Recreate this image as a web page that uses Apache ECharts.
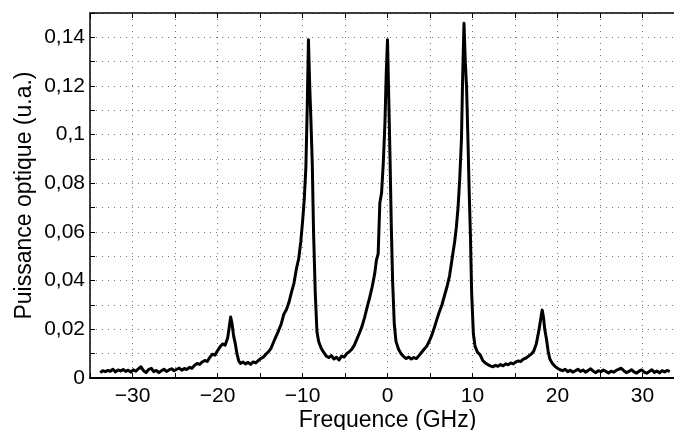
<!DOCTYPE html>
<html>
<head>
<meta charset="utf-8">
<script src="https://cdn.jsdelivr.net/npm/echarts@6/dist/echarts.min.js"></script>
<style>
html,body{margin:0;padding:0;background:#fff;}
#chart{width:674px;height:430px;}
</style>
</head>
<body>
<div id="chart"></div>
<script>
// Frequency (GHz) and optical power (a.u.)
const freq = [
-33.8,-33.5,-33.2,-32.9,-32.6,-32.3,-32.0,-31.7,-31.4,-31.1,-30.8,-30.5,-30.2,-29.9,-29.6,-29.3,-29.0,-28.7,-28.4,-28.1,
-27.8,-27.5,-27.2,-26.9,-26.6,-26.3,-26.0,-25.7,-25.4,-25.1,-24.8,-24.5,-24.2,-23.9,-23.6,-23.3,-23.0,-22.7,-22.4,-22.1,
-21.8,-21.5,-21.2,-20.9,-20.6,-20.3,-20.0,-19.7,-19.4,-19.1,-18.8,-18.6,-18.45,-18.3,-18.1,-17.9,-17.7,-17.5,-17.3,-17.0,
-16.7,-16.4,-16.1,-15.8,-15.5,-15.2,-14.9,-14.6,-14.3,-14.0,-13.7,-13.4,-13.1,-12.8,-12.5,-12.2,-11.9,-11.6,-11.3,-11.0,
-10.7,-10.45,-10.2,-10.0,-9.8,-9.6,-9.45,-9.3,-9.15,-9.0,-8.85,-8.7,-8.5,-8.3,-8.1,-7.8,-7.5,-7.2,-6.9,-6.6,
-6.3,-6.0,-5.7,-5.4,-5.1,-4.8,-4.5,-4.2,-3.9,-3.6,-3.3,-3.0,-2.7,-2.4,-2.1,-1.8,-1.5,-1.3,-1.1,-0.9,
-0.7,-0.5,-0.3,-0.15,0.0,0.15,0.3,0.45,0.6,0.8,1.0,1.3,1.6,1.9,2.2,2.5,2.8,3.1,3.4,3.7,
4.0,4.3,4.6,4.9,5.2,5.5,5.8,6.1,6.4,6.7,7.0,7.3,7.6,7.9,8.1,8.3,8.5,8.7,8.85,9.0,
9.15,9.3,9.45,9.6,9.75,9.9,10.1,10.3,10.6,10.9,11.2,11.5,11.8,12.1,12.4,12.7,13.0,13.3,13.6,13.9,
14.2,14.5,14.8,15.1,15.4,15.7,16.0,16.3,16.6,16.9,17.2,17.5,17.7,17.9,18.1,18.2,18.35,18.5,18.7,18.9,
19.1,19.4,19.7,20.0,20.3,20.6,20.9,21.2,21.5,21.8,22.1,22.4,22.7,23.0,23.3,23.6,23.9,24.2,24.5,24.8,
25.1,25.4,25.7,26.0,26.3,26.6,26.9,27.2,27.5,27.8,28.1,28.4,28.7,29.0,29.3,29.6,29.9,30.2,30.5,30.8,
31.1,31.4,31.7,32.0,32.3,32.6,32.9,33.2
];
const power = [
0.0022,0.0030,0.0026,0.0031,0.0028,0.0036,0.0025,0.0033,0.0029,0.0035,0.0027,0.0032,0.0024,0.0034,0.0028,0.0038,0.0046,0.0030,0.0022,0.0035,
0.0040,0.0026,0.0031,0.0022,0.0030,0.0036,0.0027,0.0033,0.0038,0.0030,0.0036,0.0041,0.0032,0.0039,0.0035,0.0044,0.0040,0.0052,0.0060,0.0056,
0.0066,0.0072,0.0068,0.0085,0.0098,0.0094,0.0112,0.0128,0.0140,0.0135,0.0165,0.0215,0.0251,0.0225,0.0172,0.0140,0.0098,0.0070,0.0060,0.0066,
0.0058,0.0064,0.0056,0.0066,0.0062,0.0072,0.0080,0.0086,0.0098,0.0108,0.0122,0.0148,0.0172,0.0196,0.0222,0.0262,0.0280,0.0310,0.0352,0.0390,
0.0452,0.0490,0.0560,0.0640,0.0730,0.0868,0.1100,0.1390,0.1200,0.1050,0.0880,0.0600,0.0350,0.0190,0.0150,0.0122,0.0105,0.0090,0.0084,0.0092,
0.0078,0.0085,0.0074,0.0090,0.0086,0.0100,0.0108,0.0118,0.0135,0.0160,0.0185,0.0212,0.0248,0.0290,0.0330,0.0375,0.0430,0.0485,0.0510,0.0720,
0.0760,0.0880,0.1050,0.1250,0.1390,0.1150,0.0900,0.0620,0.0400,0.0220,0.0150,0.0118,0.0100,0.0088,0.0080,0.0086,0.0078,0.0084,0.0080,0.0092,
0.0105,0.0118,0.0130,0.0150,0.0175,0.0205,0.0240,0.0272,0.0300,0.0338,0.0375,0.0420,0.0490,0.0560,0.0620,0.0700,0.0820,0.0980,0.1250,0.1458,
0.1300,0.1197,0.1000,0.0780,0.0594,0.0350,0.0183,0.0130,0.0105,0.0095,0.0072,0.0062,0.0055,0.0050,0.0046,0.0052,0.0048,0.0055,0.0050,0.0058,
0.0054,0.0062,0.0058,0.0066,0.0070,0.0068,0.0078,0.0082,0.0090,0.0098,0.0110,0.0140,0.0175,0.0215,0.0260,0.0279,0.0250,0.0200,0.0160,0.0110,
0.0078,0.0060,0.0048,0.0040,0.0034,0.0030,0.0036,0.0026,0.0032,0.0024,0.0030,0.0036,0.0027,0.0033,0.0024,0.0031,0.0038,0.0028,0.0022,0.0030,
0.0026,0.0033,0.0027,0.0021,0.0028,0.0024,0.0031,0.0036,0.0040,0.0030,0.0022,0.0027,0.0034,0.0025,0.0020,0.0028,0.0033,0.0024,0.0020,0.0027,
0.0034,0.0023,0.0029,0.0021,0.0030,0.0025,0.0031,0.0026
];
const xTicks = [-30,-20,-10,0,10,20,30];
const yTicks = [0,0.02,0.04,0.06,0.08,0.1,0.12,0.14];

const FONT = "'Liberation Sans', Arial, Helvetica, sans-serif";
const chart = echarts.init(document.getElementById('chart'), null, {renderer:'canvas'});
const grid = {left:90, right:-11, top:13, bottom:52, containLabel:false, outerBoundsMode:'none'};
const dotted = {show:true, lineStyle:{color:'#777', width:1, type:[1,5]}};

function xLab(v){
  if (!xTicks.some(t => Math.abs(t - v) < 1e-6)) return '';
  return v < 0 ? '\u2212' + Math.abs(v) : String(v);
}
function yLab(v){
  if (!yTicks.some(t => Math.abs(t - v) < 1e-9)) return '';
  return String(Number(v.toFixed(2))).replace('.', ',');
}

chart.setOption({
  animation:false,
  backgroundColor:'#fff',
  grid:grid,
  xAxis:[{
    type:'value', min:-35, max:35, interval:5, position:'bottom',
    axisLine:{show:true, onZero:false, lineStyle:{color:'#000', width:2}},
    axisTick:{show:true, inside:true, length:5, lineStyle:{color:'#000', width:1}},
    axisLabel:{formatter:xLab, color:'#000', fontSize:21, fontFamily:FONT, margin:8, showMinLabel:true, showMaxLabel:true},
    splitLine:dotted,
    name:'Frequence (GHz)', nameLocation:'middle', nameGap:31, nameMoveOverlap:false,
    nameTextStyle:{color:'#000', fontSize:23, fontFamily:FONT}
  },{
    type:'value', min:-35, max:35, interval:5, position:'top',
    axisLine:{show:true, onZero:false, lineStyle:{color:'#000', width:1.5}},
    axisTick:{show:true, inside:true, length:5, lineStyle:{color:'#000', width:1}},
    axisLabel:{show:false}, splitLine:{show:false}
  }],
  yAxis:[{
    type:'value', min:0, max:0.15, interval:0.01,
    axisLine:{show:true, onZero:false, lineStyle:{color:'#000', width:1.5}},
    axisTick:{show:true, inside:true, length:5, lineStyle:{color:'#000', width:1}},
    axisLabel:{formatter:yLab, color:'#000', fontSize:21, fontFamily:FONT, margin:5, showMinLabel:true, showMaxLabel:true},
    splitLine:dotted,
    name:'Puissance optique (u.a.)', nameLocation:'middle', nameGap:54, nameMoveOverlap:false,
    nameTextStyle:{color:'#000', fontSize:23, fontFamily:FONT}
  }],
  series:[{
    type:'line', xAxisIndex:0, yAxisIndex:0,
    data:freq.map((f,i)=>[f, power[i]]),
    showSymbol:false, symbol:'none',
    lineStyle:{color:'#000', width:3, join:'round'},
    clip:true
  }]
});
</script>
</body>
</html>
